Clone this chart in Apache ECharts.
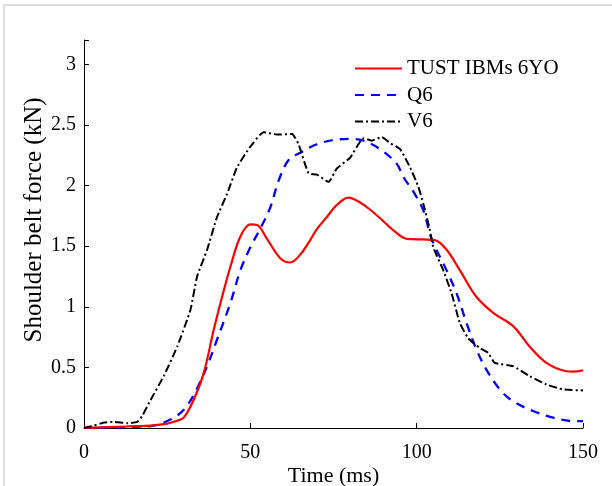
<!DOCTYPE html>
<html>
<head>
<meta charset="utf-8">
<script src="https://cdn.jsdelivr.net/npm/echarts@6/dist/echarts.min.js"></script>
<style>
  html, body { margin: 0; padding: 0; background: #fff; }
  #chart { width: 612px; height: 486px; }
</style>
</head>
<body>
<div id="chart"></div>
<script>
// belt force curves (time in ms, force in kN)
const seriesNames = ['TUST IBMs 6YO', 'Q6', 'V6']

const tustTime = [0, 5, 10, 15, 20, 25, 28, 30, 33, 36, 39, 41.5, 44, 47, 50, 52, 55, 59, 62, 65, 68, 70, 73, 76, 79.5, 83, 86, 89, 93, 97, 102, 105.5, 109, 113, 118, 123, 129, 134, 139, 145, 147, 150]
const tustForce = [0, 0.005, 0.01, 0.015, 0.02, 0.036, 0.06, 0.085, 0.235, 0.455, 0.81, 1.08, 1.33, 1.58, 1.68, 1.675, 1.56, 1.40, 1.365, 1.43, 1.55, 1.64, 1.74, 1.84, 1.90, 1.86, 1.80, 1.73, 1.63, 1.56, 1.555, 1.55, 1.47, 1.30, 1.08, 0.95, 0.84, 0.67, 0.537, 0.468, 0.465, 0.475]

const q6Time = [0, 5, 10, 15, 20, 26, 30, 33.5, 37, 40, 44, 47, 50, 53, 56, 58.5, 61.5, 65, 70, 75, 80, 84, 89, 94, 96, 99, 102, 104.5, 109, 112, 115, 118, 121, 125, 129, 135, 141, 147, 150]
const q6Force = [0, 0.003, 0.006, 0.01, 0.015, 0.07, 0.15, 0.30, 0.51, 0.73, 1.03, 1.30, 1.49, 1.645, 1.82, 2.04, 2.21, 2.27, 2.34, 2.375, 2.385, 2.37, 2.30, 2.18, 2.07, 1.95, 1.795, 1.56, 1.30, 1.11, 0.865, 0.646, 0.48, 0.318, 0.22, 0.14, 0.085, 0.057, 0.057]

const v6Time = [0, 3, 6, 9, 13, 16, 17.5, 20, 24, 28, 32, 34, 37, 40, 43, 46, 50, 54, 58, 62.5, 64.5, 67.5, 70, 73.5, 76, 80, 84, 86.5, 89.5, 92, 95, 98, 100.5, 102, 104, 105, 108, 110.5, 113, 115.5, 119, 121.5, 123.5, 129, 134, 139, 144, 150]
const v6Force = [0, 0.02, 0.045, 0.05, 0.04, 0.05, 0.1, 0.23, 0.43, 0.67, 0.975, 1.25, 1.47, 1.74, 1.93, 2.15, 2.32, 2.44, 2.42, 2.425, 2.34, 2.10, 2.09, 2.03, 2.14, 2.23, 2.39, 2.37, 2.40, 2.35, 2.30, 2.15, 1.99, 1.85, 1.63, 1.49, 1.30, 1.11, 0.865, 0.74, 0.66, 0.62, 0.537, 0.51, 0.427, 0.359, 0.318, 0.31]

const xTicks = [0, 50, 100, 150]

const pairs = (xs, ys) => xs.map((x, i) => [x, ys[i]])
const font = 'Liberation Serif'

const chart = echarts.init(document.getElementById('chart'))
chart.setOption({
  animation: false,
  backgroundColor: '#fff',
  graphic: [{
    type: 'rect',
    shape: { x: 4, y: 5, width: 700, height: 600 },
    style: { fill: 'none', stroke: '#d4d4d4', lineWidth: 1.5 },
    silent: true
  }],
  grid: { left: 84, right: 29, top: 40, bottom: 58, outerBoundsMode: 'none', containLabel: false },
  legend: {
    orient: 'vertical',
    left: 354,
    top: 58,
    padding: 0,
    itemWidth: 47,
    itemHeight: 14,
    itemGap: 5.5,
    itemStyle: { opacity: 0 },
    textStyle: { fontFamily: font, fontSize: 21, lineHeight: 21, color: '#000' },
    data: seriesNames
  },
  xAxis: {
    type: 'value',
    min: 0, max: 150, interval: 50,
    name: 'Time (ms)',
    nameLocation: 'middle',
    nameGap: 37,
    nameMoveOverlap: false,
    nameTextStyle: { fontFamily: font, fontSize: 22, color: '#000' },
    axisLine: { lineStyle: { color: '#000', width: 1 } },
    axisTick: { inside: true, length: 5, lineStyle: { color: '#000' } },
    axisLabel: {
      fontFamily: font, fontSize: 20, color: '#000', margin: 15,
      formatter: v => xTicks.includes(v) ? String(v) : ''
    },
    splitLine: { show: false }
  },
  yAxis: {
    type: 'value',
    min: 0, max: 3.2, interval: 0.5,
    name: 'Shoulder belt force (kN)',
    nameLocation: 'middle',
    nameGap: 37,
    nameMoveOverlap: false,
    nameTextStyle: { fontFamily: font, fontSize: 25, color: '#000', padding: [0, 0, 0, 28] },
    axisLine: { show: true, lineStyle: { color: '#000', width: 1 } },
    axisTick: { show: true, inside: true, length: 5, lineStyle: { color: '#000' } },
    axisLabel: {
      fontFamily: font, fontSize: 20, color: '#000', margin: 8,
      formatter: v => (Math.abs(v * 2 - Math.round(v * 2)) < 1e-6) ? String(v) : ''
    },
    splitLine: { show: false }
  },
  series: [
    {
      name: seriesNames[0], type: 'line', symbol: 'none', smooth: 0.35,
      lineStyle: { color: '#ff0000', width: 2.2 },
      itemStyle: { color: '#ff0000' },
      data: pairs(tustTime, tustForce), z: 3
    },
    {
      name: seriesNames[1], type: 'line', symbol: 'none', smooth: 0.35,
      lineStyle: { color: '#0000ff', width: 2.3, type: [9, 7] },
      itemStyle: { color: '#0000ff' },
      data: pairs(q6Time, q6Force), z: 2
    },
    {
      name: seriesNames[2], type: 'line', symbol: 'none', smooth: 0.15,
      lineStyle: { color: '#000', width: 2, type: [8, 3, 2, 3] },
      itemStyle: { color: '#000' },
      data: pairs(v6Time, v6Force), z: 4
    }
  ]
})
</script>
</body>
</html>
